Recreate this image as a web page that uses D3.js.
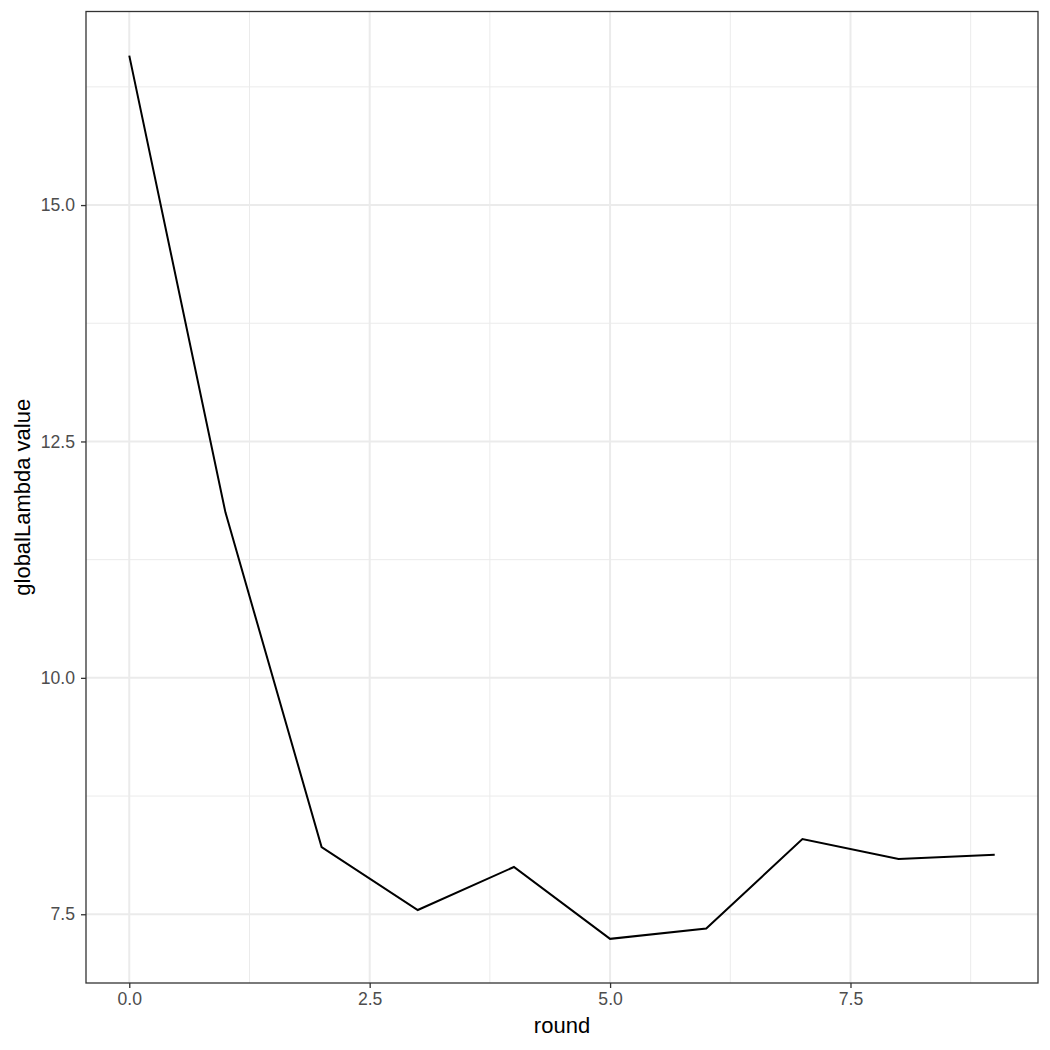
<!DOCTYPE html>
<html>
<head>
<meta charset="utf-8">
<script src="https://cdn.jsdelivr.net/npm/d3@7"></script>
<style>
  body { margin: 0; background: #fff; }
  svg { font-family: "Liberation Sans", Arial, sans-serif; }
</style>
</head>
<body>
<div id="chart"></div>
<script>
// data
const rounds = [0, 1, 2, 3, 4, 5, 6, 7, 8, 9];
const lambdaValues = [16.58, 11.75, 8.21, 7.545, 8.0, 7.24, 7.35, 8.295, 8.085, 8.13];
const xTicks = [0, 2.5, 5, 7.5];
const yTicks = [7.5, 10, 12.5, 15];

const width = 1050, height = 1050;
const margin = {top: 11.5, right: 12, bottom: 67, left: 86};
const innerW = width - margin.left - margin.right;
const innerH = height - margin.top - margin.bottom;

const svg = d3.select('#chart').append('svg')
  .attr('width', width).attr('height', height);

const xMin = d3.min(rounds), xMax = d3.max(rounds);
const xPad = (xMax - xMin) * 0.05;
const x = d3.scaleLinear().domain([xMin - xPad, xMax + xPad]).range([0, innerW]);

const yMin = d3.min(lambdaValues), yMax = d3.max(lambdaValues);
const yPad = (yMax - yMin) * 0.05;
const y = d3.scaleLinear().domain([yMin - yPad, yMax + yPad]).range([innerH, 0]);

const g = svg.append('g').attr('transform', `translate(${margin.left},${margin.top})`);

// minor gridlines (midpoints between majors)
const xMinor = d3.range(-1.25, xMax + xPad, 2.5).filter(v => v > xMin - xPad && v < xMax + xPad);
const yMinor = d3.range(6.25, yMax + yPad, 2.5).filter(v => v > yMin - yPad && v < yMax + yPad);

g.selectAll('.xminor').data(xMinor).enter().append('line')
  .attr('x1', d => x(d)).attr('x2', d => x(d)).attr('y1', 0).attr('y2', innerH)
  .attr('stroke', '#ebebeb').attr('stroke-width', 1);
g.selectAll('.yminor').data(yMinor).enter().append('line')
  .attr('y1', d => y(d)).attr('y2', d => y(d)).attr('x1', 0).attr('x2', innerW)
  .attr('stroke', '#ebebeb').attr('stroke-width', 1);

// major gridlines
g.selectAll('.xmajor').data(xTicks).enter().append('line')
  .attr('x1', d => x(d)).attr('x2', d => x(d)).attr('y1', 0).attr('y2', innerH)
  .attr('stroke', '#ebebeb').attr('stroke-width', 2);
g.selectAll('.ymajor').data(yTicks).enter().append('line')
  .attr('y1', d => y(d)).attr('y2', d => y(d)).attr('x1', 0).attr('x2', innerW)
  .attr('stroke', '#ebebeb').attr('stroke-width', 2);

// the line
const line = d3.line().x((d, i) => x(rounds[i])).y(d => y(d));
g.append('path').datum(lambdaValues)
  .attr('d', line)
  .attr('fill', 'none').attr('stroke', '#000').attr('stroke-width', 2);

// panel border
g.append('rect').attr('x', 0).attr('y', 0).attr('width', innerW).attr('height', innerH)
  .attr('fill', 'none').attr('stroke', '#333').attr('stroke-width', 1.3);

// axes
const xAxis = g.append('g').attr('transform', `translate(0,${innerH})`)
  .call(d3.axisBottom(x).tickValues(xTicks).tickFormat(d3.format('.1f')).tickSize(5).tickPadding(5));
const yAxis = g.append('g')
  .call(d3.axisLeft(y).tickValues(yTicks).tickFormat(d3.format('.1f')).tickSize(5).tickPadding(6));

[xAxis, yAxis].forEach(a => {
  a.attr('font-size', 17.6).attr('font-family', '"Liberation Sans", Arial, sans-serif');
  a.select('.domain').remove();
  a.selectAll('.tick line').attr('stroke', '#333').attr('stroke-width', 1.3);
  a.selectAll('.tick text').attr('fill', '#4d4d4d');
});

// axis titles
svg.append('text')
  .attr('x', margin.left + innerW / 2).attr('y', 1033)
  .attr('text-anchor', 'middle').attr('font-size', 22).attr('fill', '#000')
  .text('round');
svg.append('text')
  .attr('transform', `translate(30,${margin.top + innerH / 2}) rotate(-90)`)
  .attr('text-anchor', 'middle').attr('font-size', 22).attr('fill', '#000')
  .text('globalLambda value');
</script>
</body>
</html>
